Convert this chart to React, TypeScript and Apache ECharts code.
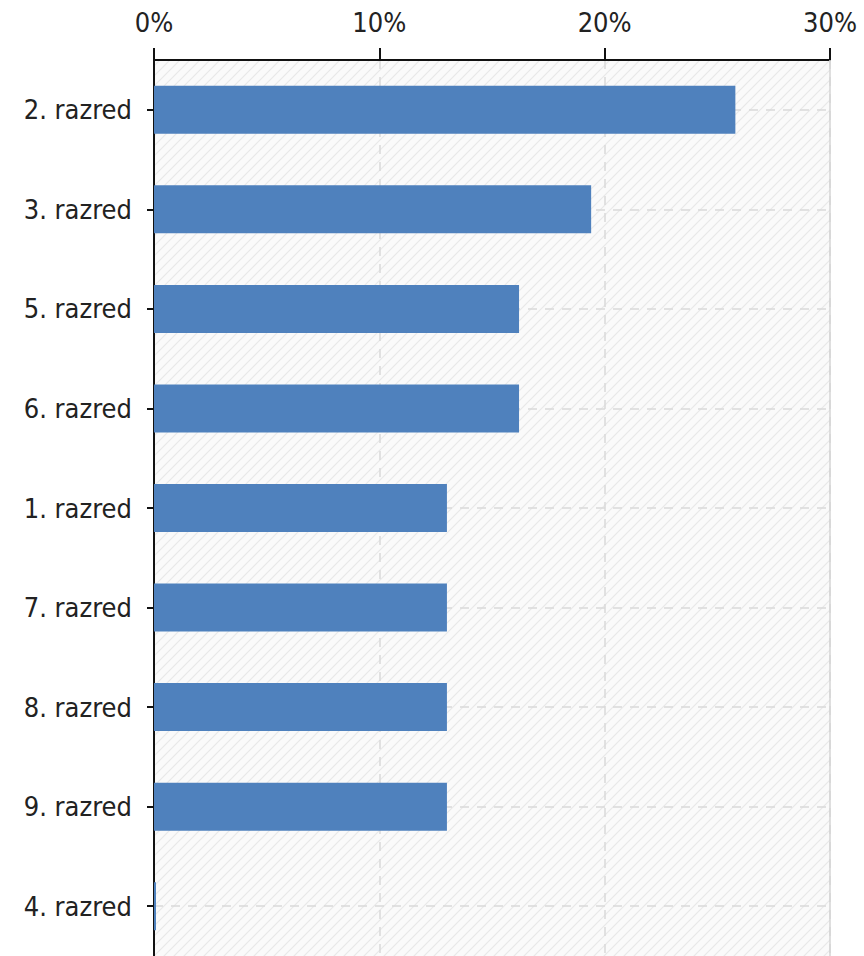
import React, { useEffect, useRef } from "react";
import * as echarts from "echarts";

const categories = [
  "2. razred",
  "3. razred",
  "5. razred",
  "6. razred",
  "1. razred",
  "7. razred",
  "8. razred",
  "9. razred",
  "4. razred",
];
const values = [25.8, 19.4, 16.2, 16.2, 13.0, 13.0, 13.0, 13.0, 0];
const xMin = 0;
const xMax = 30;
const xInterval = 10;

const FONT = "'DejaVu Sans Condensed', 'DejaVu Sans', sans-serif";

function makeHatch(): string {
  const c = document.createElement("canvas");
  const s = 10;
  c.width = s;
  c.height = s;
  const ctx = c.getContext("2d")!;
  ctx.fillStyle = "#fafafa";
  ctx.fillRect(0, 0, s, s);
  ctx.strokeStyle = "#e8e8e8";
  ctx.lineWidth = 1.2;
  const seg = (x1: number, y1: number, x2: number, y2: number) => {
    ctx.beginPath();
    ctx.moveTo(x1, y1);
    ctx.lineTo(x2, y2);
    ctx.stroke();
  };
  seg(0, s, s, 0);
  seg(-s, s, s, -s);
  seg(0, 2 * s, 2 * s, 0);
  return c.toDataURL();
}

export default function App() {
  const ref = useRef<HTMLDivElement>(null);
  useEffect(() => {
    if (!ref.current) return;
    const chart = echarts.init(ref.current, undefined, { renderer: "svg" });
    const hatch = makeHatch();
    chart.setOption({
      animation: false,
      grid: {
        left: 154,
        right: 34,
        top: 60,
        bottom: 0,
        show: true,
        borderWidth: 0,
        backgroundColor: { image: hatch, repeat: "repeat" } as any,
      },
      xAxis: {
        type: "value",
        position: "top",
        min: xMin,
        max: xMax,
        interval: xInterval,
        axisLine: { show: true, lineStyle: { color: "#111", width: 2 } },
        axisTick: { show: true, length: 12, lineStyle: { color: "#111", width: 2 } },
        axisLabel: {
          formatter: "{value}%",
          margin: 24,
          color: "#222",
          fontSize: 27,
          fontFamily: FONT,
        },
        splitLine: {
          show: true,
          lineStyle: { color: "#d9d9d9", type: [9, 8], width: 1.5 },
        },
      },
      yAxis: {
        type: "category",
        inverse: true,
        data: categories,
        axisLine: { show: true, lineStyle: { color: "#111", width: 2 } },
        axisTick: { show: true, length: 7, alignWithLabel: true, lineStyle: { color: "#111", width: 2 } },
        axisLabel: {
          margin: 22,
          color: "#222",
          fontSize: 27,
          fontFamily: FONT,
        },
        splitLine: { show: false },
      },
      series: [
        {
          type: "line",
          data: [],
          silent: true,
          z: 1,
          markLine: {
            silent: true,
            z: 1,
            symbol: "none",
            label: { show: false },
            lineStyle: { color: "#d9d9d9", type: [9, 8], width: 1.5 },
            data: [
              ...categories.map((c) => ({ yAxis: c })),
              { xAxis: xMax, lineStyle: { color: "#d4d4d4", type: "solid", width: 1.5 } },
            ],
          },
        },
        {
          type: "bar",
          data: values,
          barWidth: 48,
          barMinHeight: 2,
          z: 2,
          itemStyle: { color: "#4f81bd" },
        },
      ],
    });
    return () => chart.dispose();
  }, []);
  return (
    <div
      ref={ref}
      style={{ position: "absolute", left: 0, top: 0, width: 864, height: 956 }}
    />
  );
}
